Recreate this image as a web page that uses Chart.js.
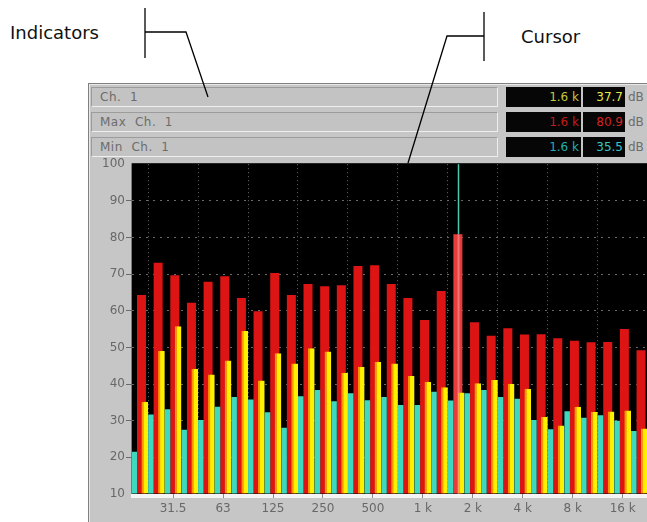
<!DOCTYPE html>
<html>
<head>
<meta charset="utf-8">
<title>Spectrum – Ch. 1</title>
<script src="https://cdn.jsdelivr.net/npm/chart.js@4.4.1/dist/chart.umd.min.js"></script>
<style>
  html, body { margin:0; padding:0; width:647px; height:522px; overflow:hidden; background:#fff; }
  body { position:relative; font-family:"DejaVu Sans", sans-serif; }
  .note { position:absolute; font-size:18px; color:#111; line-height:1; white-space:nowrap; }
  #frame { position:absolute; left:88px; top:83px; width:600px; height:460px; background:#c6c6c6;
           box-shadow: inset 1px 1px 0 #808080, inset 2px 2px 0 #e8e8e8; filter:blur(0.55px); }
  .row { position:absolute; left:3px; width:600px; height:20px; }
  .field { position:absolute; left:0; top:0; width:407px; height:20px; background:#c3c3c3; box-sizing:border-box;
           border-top:1px solid #9c9c9c; border-left:1px solid #9c9c9c; border-bottom:1px solid #eeeeee; border-right:1px solid #eeeeee;
           font-size:12px; color:#6c6c6c; line-height:18px; padding-left:8px; letter-spacing:0.5px; }
  .box { position:absolute; top:0; height:20px; background:#060606; box-sizing:border-box; font-size:12px;
         line-height:20px; text-align:right; padding-right:2px; }
  .unit { position:absolute; top:0; font-size:12px; color:#6c6c6c; line-height:20px; }
  #plot { position:absolute; left:0; top:73px; width:560px; height:366px; }
  svg { position:absolute; left:0; top:0; }
</style>
</head>
<body>
<div class="note" style="left:10px; top:24px;">Indicators</div>
<div class="note" style="left:521px; top:28px;">Cursor</div>

<div id="frame">
  <div class="row" style="top:4px;">
    <div class="field">Ch.&nbsp; 1</div>
    <div class="box" id="f1" style="left:415px; width:75px; color:#c4c83a;"></div>
    <div class="box" id="v1" style="left:492px; width:42px; color:#e6e84a;"></div>
    <div class="unit" style="left:537px;">dB</div>
  </div>
  <div class="row" style="top:29px;">
    <div class="field">Max&nbsp; Ch.&nbsp; 1</div>
    <div class="box" id="f2" style="left:415px; width:75px; color:#c21a1a;"></div>
    <div class="box" id="v2" style="left:492px; width:42px; color:#d42222;"></div>
    <div class="unit" style="left:537px;">dB</div>
  </div>
  <div class="row" style="top:54px;">
    <div class="field">Min&nbsp; Ch.&nbsp; 1</div>
    <div class="box" id="f3" style="left:415px; width:75px; color:#22aeae;"></div>
    <div class="box" id="v3" style="left:492px; width:42px; color:#34c6c6;"></div>
    <div class="unit" style="left:537px;">dB</div>
  </div>
  <div id="plot"><canvas id="spectrum"></canvas></div>
</div>

<svg width="647" height="522" viewBox="0 0 647 522">
  <g stroke="#000" stroke-width="1.3" fill="none">
    <line x1="145" y1="8" x2="145" y2="58"/>
    <polyline points="145,32 186,32 208,97"/>
    <line x1="484" y1="12" x2="484" y2="61"/>
    <polyline points="484,36 447,36 408,163"/>
  </g>
</svg>

<script>
// Third-octave bands, 20 Hz .. 20 kHz
const bands = ['20','25','31.5','40','50','63','80','100','125','160','200','250','315','400','500','630',
               '800','1 k','1.25 k','1.6 k','2 k','2.5 k','3.15 k','4 k','5 k','6.3 k','8 k','10 k','12.5 k','16 k','20 k'];

// Levels in dB
const maxLevels = [64.3, 73.1, 69.7, 62.2, 67.9, 69.4, 63.5, 59.9, 70.3, 64.3, 67.3, 66.7, 67.0, 72.2, 72.4, 67.3,
                   63.5, 57.5, 65.4, 80.9, 56.9, 53.2, 55.2, 53.5, 53.6, 52.5, 51.8, 51.4, 51.5, 55.0, 49.2];
const curLevels = [35.2, 49.0, 55.8, 44.2, 42.6, 46.4, 54.5, 41.0, 48.4, 45.6, 49.8, 48.9, 43.1, 44.7, 46.1, 45.6,
                   42.2, 40.6, 39.1, 37.7, 40.2, 41.1, 40.1, 38.7, 31.0, 28.7, 33.8, 32.4, 32.5, 32.8, 27.9];
const minLevels = [21.5, 31.7, 33.1, 27.5, 30.2, 33.8, 36.5, 35.8, 32.3, 28.1, 36.7, 38.4, 35.3, 37.5, 35.6, 36.5,
                   34.3, 34.3, 37.9, 35.5, 37.5, 38.4, 36.5, 36.0, 30.2, 27.7, 32.6, 30.8, 31.5, 30.0, 27.2];

// Axis labels
const octaveLabels = ['31.5','63','125','250','500','1 k','2 k','4 k','8 k','16 k'];
const levelTicks = [10, 20, 30, 40, 50, 60, 70, 80, 90, 100];
const cursorBand = '1.6 k';

// Where each series sits inside a band (band units) and how wide it is (px)
const slot = {
  min: { shift: -0.333, width: 5.5 },
  max: { shift: 0.102, width: 9 },
  cur: { shift: 0.300, width: 6.7 }
};

const cursorIndex = bands.indexOf(cursorBand);
const octaveIndex = octaveLabels.map(l => bands.indexOf(l));
// octave band edges sit half a band below each octave's lower third
const octaveEdges = octaveIndex.map(i => i - 1.5);

// indicator readouts
document.getElementById('f1').textContent = cursorBand;
document.getElementById('f2').textContent = cursorBand;
document.getElementById('f3').textContent = cursorBand;
document.getElementById('v1').textContent = curLevels[cursorIndex].toFixed(1);
document.getElementById('v2').textContent = maxLevels[cursorIndex].toFixed(1);
document.getElementById('v3').textContent = minLevels[cursorIndex].toFixed(1);

const toPoints = (levels, shift) => levels.map((y, i) => ({ x: i + shift, y }));

const X_MIN = -0.468, X_MAX = 30.52;
const TICK_FONT = { family: 'DejaVu Sans', size: 12 };
const TICK_COLOR = '#686868';

const backdrop = {
  id: 'backdrop',
  beforeDraw(chart) {
    const { ctx, chartArea: a } = chart;
    ctx.save();
    ctx.fillStyle = '#000';
    ctx.fillRect(a.left, a.top - 1, a.right - a.left, a.bottom - a.top + 1);
    ctx.fillStyle = '#7c7c7c';
    ctx.fillRect(a.left - 1, a.top - 1, 1, a.bottom - a.top + 1);
    ctx.fillStyle = '#f4f4f4';
    ctx.fillRect(a.left - 1, a.bottom, a.right - a.left + 1, 4);
    ctx.restore();
  }
};

const cursorLine = {
  id: 'cursorLine',
  afterDatasetsDraw(chart) {
    const { ctx, chartArea: a, scales } = chart;
    const x = Math.round(scales.x.getPixelForValue(cursorIndex + slot.max.shift)) + 0.5;
    const yTop = scales.y.getPixelForValue(maxLevels[cursorIndex]);
    ctx.save();
    ctx.lineWidth = 1.5;
    ctx.strokeStyle = '#4cc8ac';
    ctx.beginPath(); ctx.moveTo(x, a.top); ctx.lineTo(x, yTop); ctx.stroke();
    ctx.lineWidth = 2;
    ctx.strokeStyle = 'rgba(255,185,185,0.45)';
    ctx.beginPath(); ctx.moveTo(x, yTop); ctx.lineTo(x, a.bottom); ctx.stroke();
    ctx.restore();
  }
};

new Chart(document.getElementById('spectrum'), {
  type: 'bar',
  data: {
    datasets: [
      {
        label: 'Min Ch. 1',
        data: toPoints(minLevels, slot.min.shift),
        backgroundColor: '#3ed8bf',
        barThickness: slot.min.width,
        order: 1
      },
      {
        label: 'Ch. 1',
        data: toPoints(curLevels, slot.cur.shift),
        backgroundColor: '#fff000',
        borderColor: '#ff9600',
        borderWidth: { left: 2, top: 0, right: 0, bottom: 0 },
        borderSkipped: false,
        barThickness: slot.cur.width,
        order: 2
      },
      {
        label: 'Max Ch. 1',
        data: toPoints(maxLevels, slot.max.shift),
        backgroundColor: maxLevels.map((_, i) => i === cursorIndex ? '#e83c3c' : '#dc1414'),
        barThickness: slot.max.width,
        order: 3
      }
    ]
  },
  options: {
    responsive: true,
    maintainAspectRatio: false,
    animation: false,
    layout: { padding: { top: 8, left: 0, right: 0, bottom: 0 } },
    datasets: { bar: { grouped: false, base: 10, clip: 0, inflateAmount: 0 } },
    plugins: { legend: { display: false }, tooltip: { enabled: false } },
    scales: {
      x: {
        type: 'linear',
        offset: false,
        min: X_MIN, max: X_MAX,
        afterBuildTicks: s => { s.ticks = octaveIndex.map(v => ({ value: v })); },
        afterFit: s => { s.height = 28; },
        ticks: {
          autoSkip: false, maxRotation: 0, padding: 4,
          color: TICK_COLOR, font: TICK_FONT,
          callback: v => bands[v]
        },
        grid: { offset: false, drawOnChartArea: false, drawTicks: true, tickLength: 4, tickColor: '#8a8a8a' },
        border: { display: false }
      },
      x2: {
        type: 'linear',
        position: 'bottom',
        offset: false,
        min: X_MIN, max: X_MAX,
        afterBuildTicks: s => { s.ticks = octaveEdges.map(v => ({ value: v })); },
        afterFit: s => { s.height = 0; },
        ticks: { display: false },
        grid: { offset: false, drawTicks: false, color: '#6a6a6a', lineWidth: 1 },
        border: { display: false, dash: [1, 3] }
      },
      y: {
        min: 10, max: 100,
        afterBuildTicks: s => { s.ticks = levelTicks.map(v => ({ value: v })); },
        afterFit: s => { s.width = 44; },
        ticks: { color: TICK_COLOR, font: TICK_FONT, padding: 1 },
        grid: {
          color: c => (c.tick && (c.tick.value === 10 || c.tick.value === 100)) ? 'rgba(0,0,0,0)' : '#6a6a6a',
          tickColor: c => (c.tick && (c.tick.value === 10 || c.tick.value === 100)) ? 'rgba(0,0,0,0)' : '#6a6a6a',
          tickLength: 6, tickBorderDash: [], lineWidth: 1
        },
        border: { display: false, dash: [2, 5] }
      }
    }
  },
  plugins: [backdrop, cursorLine]
});
</script>
</body>
</html>
